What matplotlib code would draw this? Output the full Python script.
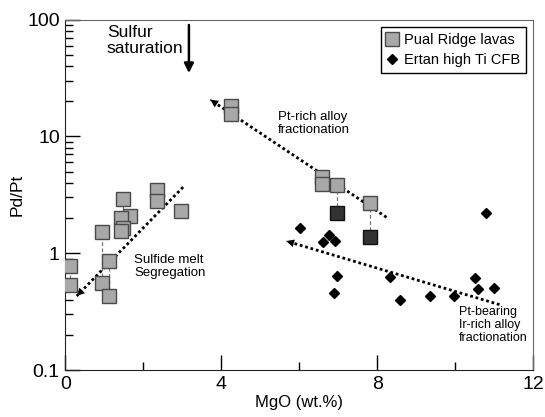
import numpy as np
import matplotlib
matplotlib.use('Agg')
from matplotlib import pyplot as plt
from matplotlib.ticker import FixedLocator, NullFormatter, LogLocator

plt.rcParams['font.family'] = ['Liberation Sans', 'DejaVu Sans']

# Pual Ridge lavas (grey squares)
pual_mgo = [0.13, 0.13, 0.95, 1.12, 0.95, 1.12, 1.48, 1.65, 1.42, 1.48, 1.42,
            2.35, 2.35, 2.96, 4.26, 4.26, 6.58, 6.58, 6.98, 7.81]
pual_pdpt = [0.78, 0.53, 1.53, 0.85, 0.56, 0.43, 2.93, 2.10, 2.00, 1.65, 1.55,
             3.50, 2.79, 2.29, 18.1, 15.6, 4.48, 3.93, 3.80, 2.70]

# dark squares (corrected values)
dark_mgo = [6.98, 7.81]
dark_pdpt = [2.22, 1.37]

# Ertan high Ti CFB (diamonds)
ertan_mgo = [6.03, 6.76, 6.61, 6.91, 6.97, 6.89, 8.32, 8.58, 9.35, 9.96,
             10.51, 10.60, 11.0, 10.8]
ertan_pdpt = [1.64, 1.44, 1.24, 1.28, 0.64, 0.46, 0.63, 0.40, 0.43, 0.43,
              0.61, 0.49, 0.50, 2.22]

# dashed tie lines between paired samples
tie_mgo = [0.13, 0.95, 1.12, 1.48, 2.35, 4.26, 6.58, 6.98, 7.81]
tie_low = [0.53, 0.56, 0.43, 1.65, 2.79, 15.6, 3.93, 2.22, 1.37]
tie_high = [0.78, 1.53, 0.85, 2.93, 3.50, 18.1, 4.48, 3.80, 2.70]

# trend arrows: (x_tail, y_tail, x_head, y_head)
trend_sulfide = (3.02, 3.68, 0.29, 0.43)
trend_ptrich = (8.24, 2.03, 3.72, 20.6)
trend_ptbearing = (11.14, 0.363, 5.67, 1.27)

fig = plt.figure(figsize=(5.45, 4.17), dpi=100)
ax = fig.add_axes([0.12, 0.1127, 0.858, 0.8403])

for x, lo, hi in zip(tie_mgo, tie_low, tie_high):
    ax.plot([x, x], [lo, hi], color='#777777', ls=(0, (3, 2)), lw=0.9, zorder=1)

for xt, yt, xh, yh in [trend_sulfide, trend_ptrich, trend_ptbearing]:
    ax.plot([xt, xh], [yt, yh], color='black', ls=(0, (1, 1)), lw=2.0, zorder=2)
    ax.annotate('', xy=(xh, yh), xytext=(xh + (xt - xh) * 0.02, yh * (yt / yh) ** 0.02),
                arrowprops=dict(arrowstyle='-|>', color='black', lw=0, mutation_scale=14),
                zorder=3)

ax.plot(pual_mgo, pual_pdpt, ls='none', marker='s', ms=10, mfc='#a8a8a8',
        mec='#4a4a4a', mew=1.0, zorder=4, label='Pual Ridge lavas')
ax.plot(dark_mgo, dark_pdpt, ls='none', marker='s', ms=10, mfc='#333333',
        mec='#111111', mew=1.0, zorder=4)
ax.plot(ertan_mgo, ertan_pdpt, ls='none', marker='D', ms=5.2, mfc='black',
        mec='black', zorder=4, label='Ertan high Ti CFB')

# sulfur saturation arrow
ax.annotate('', xy=(3.17, 33), xytext=(3.17, 95),
            arrowprops=dict(arrowstyle='-|>', color='black', lw=1.8, mutation_scale=14))
ax.text(1.06, 90, 'Sulfur\nsaturation', fontsize=12.5, va='top', ha='left', linespacing=1.1)
ax.text(5.45, 16.5, 'Pt-rich alloy\nfractionation', fontsize=9.5, va='top', ha='left', linespacing=1.1)
ax.text(1.76, 0.98, 'Sulfide melt\nSegregation', fontsize=9.5, va='top', ha='left', linespacing=1.1)
ax.text(10.1, 0.355, 'Pt-bearing\nIr-rich alloy\nfractionation', fontsize=9,
        va='top', ha='left', linespacing=1.1)

ax.set_yscale('log')
ax.set_xlim(0, 12)
ax.set_ylim(0.1, 100)
ax.set_xticks([0, 4, 8, 12])
ax.set_xticklabels(['0', '4', '8', '12'])
ax.xaxis.set_minor_locator(FixedLocator([2, 6, 10]))
ax.set_yticks([0.1, 1, 10, 100])
ax.set_yticklabels(['0.1', '1', '10', '100'])
ax.yaxis.set_minor_locator(LogLocator(base=10, subs=np.arange(2, 10)))
ax.yaxis.set_minor_formatter(NullFormatter())
ax.tick_params(which='major', direction='in', length=11, width=1, labelsize=14, pad=4,
               top=False, right=False)
ax.tick_params(which='minor', direction='in', length=6, width=1, top=False, right=False)

for s in ['top', 'right']:
    ax.spines[s].set_color('#666666')
for s in ['left', 'bottom']:
    ax.spines[s].set_color('#222222')

ax.set_xlabel('MgO (wt.%)', fontsize=12, labelpad=2)
ax.set_ylabel('Pd/Pt', fontsize=12.5, labelpad=2)

leg = ax.legend(loc='upper right', bbox_to_anchor=(0.985, 0.978), fontsize=10.5,
                fancybox=False, edgecolor='black', framealpha=1, handlelength=0.8,
                handletextpad=0.4, borderpad=0.4, labelspacing=0.4, borderaxespad=0)
leg.get_frame().set_linewidth(1.0)

fig.savefig('out.png', dpi=100)
plt.close()
